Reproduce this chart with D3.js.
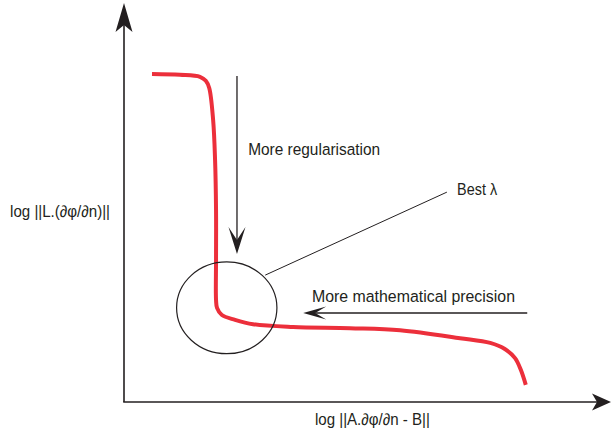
<!DOCTYPE html>
<html>
  <head>
    <meta charset="utf-8">
    <title>L-curve</title>
    <script src="https://d3js.org/d3.v7.min.js"></script>
    <style>
      body { margin: 0; background: #fff; }
      svg { display: block; font-family: "Liberation Sans", Arial, sans-serif; }
      .label { font-size: 16.3px; fill: #231f20; }
    </style>
  </head>
  <body>
    <svg id="chart" width="611" height="436"></svg>
    <script>
      // curve, in arbitrary log units (0-100 on both axes)
      curveX = [5.75, 11.5, 15.6, 16.8, 17.5, 18.3, 18.7, 18.9, 18.9, 18.9, 19.1, 20.1, 22.8, 26.5, 34.7, 46.4, 56.7, 69.0, 75.2, 78.2, 80.3, 81.5, 82.5];
      curveY = [82.2, 82.0, 81.5, 80.5, 78.7, 70.7, 60.7, 48.1, 35.6, 25.6, 23.6, 21.8, 20.6, 19.5, 18.8, 18.5, 18.0, 16.0, 14.8, 13.3, 11.0, 8.0, 4.3];
      // annotations
      downArrow = { x: 23.2, y1: 81.7, y2: 37.1 };
      leftArrow = { y: 22.3, x1: 82.8, x2: 36.8 };
      bestCircle = { cx: 21.1, cy: 23.6, rx: 10.3, ry: 11.5 };
      pointer = { x1: 29.0, y1: 31.8, x2: 66.3, y2: 52.6 };
      labels = [
        { text: "More regularisation", x: 25.5, y: 61.9 },
        { text: "Best \u03bb", x: 68.4, y: 51.9 },
        { text: "More mathematical precision", x: 38.6, y: 25.1 },
        { text: "log ||A.\u2202\u03c6/\u2202n - B||", x: 39.2, y: -5.8 },
        { text: "log ||L.(\u2202\u03c6/\u2202n)||", x: -23.4, y: 46.4 }
      ];
      // rendered widths of the labels in the original, px
      labelWidths = [132, 40, 203, 115, 100];

      chart = d3.select("#chart");
      x = d3.scaleLinear().domain([0, 100]).range([124, 611]);
      y = d3.scaleLinear().domain([0, 100]).range([402, 3]);
      ink = "#231f20";

      // notched arrowhead, tip at (tx, ty), pointing along angle a
      function arrowHead(tx, ty, a, len, half, notch) {
        ux = Math.cos(a); uy = Math.sin(a);
        px = -uy; py = ux;
        pts = [
          [tx, ty],
          [tx - ux * len + px * half, ty - uy * len + py * half],
          [tx - ux * notch, ty - uy * notch],
          [tx - ux * len - px * half, ty - uy * len - py * half]
        ];
        return "M" + pts.map(function(p) { return p.join(","); }).join("L") + "Z";
      }

      // axes
      chart.append("line")
        .attr("x1", x(0)).attr("y1", y(0))
        .attr("x2", x(0)).attr("y2", y(100) + 20)
        .attr("stroke", ink).attr("stroke-width", 1.6);
      chart.append("path")
        .attr("d", arrowHead(x(0), y(100), -Math.PI / 2, 29, 8.5, 22))
        .attr("fill", ink);
      chart.append("line")
        .attr("x1", x(0) - 0.8).attr("y1", y(0))
        .attr("x2", x(100) - 14).attr("y2", y(0))
        .attr("stroke", ink).attr("stroke-width", 1.6);
      chart.append("path")
        .attr("d", arrowHead(x(100), y(0), 0, 19, 8.5, 14))
        .attr("fill", ink);

      // L-curve
      curveData = curveX.map(function(d, i) { return [d, curveY[i]]; });
      line = d3.line()
        .x(function(d) { return x(d[0]); })
        .y(function(d) { return y(d[1]); })
        .curve(d3.curveCatmullRom.alpha(0.5));
      chart.append("path")
        .attr("d", line(curveData))
        .attr("fill", "none")
        .attr("stroke", "#ec2f3b")
        .attr("stroke-width", 4)
        .attr("stroke-linecap", "butt");

      // best lambda circle and pointer
      chart.append("ellipse")
        .attr("cx", x(bestCircle.cx)).attr("cy", y(bestCircle.cy))
        .attr("rx", x(bestCircle.rx) - x(0)).attr("ry", y(0) - y(bestCircle.ry))
        .attr("fill", "none").attr("stroke", ink).attr("stroke-width", 1.2);
      chart.append("line")
        .attr("x1", x(pointer.x1)).attr("y1", y(pointer.y1))
        .attr("x2", x(pointer.x2)).attr("y2", y(pointer.y2))
        .attr("stroke", ink).attr("stroke-width", 1);

      // direction arrows
      chart.append("line")
        .attr("x1", x(downArrow.x)).attr("y1", y(downArrow.y1))
        .attr("x2", x(downArrow.x)).attr("y2", y(downArrow.y2) - 14)
        .attr("stroke", ink).attr("stroke-width", 1.3);
      chart.append("path")
        .attr("d", arrowHead(x(downArrow.x), y(downArrow.y2), Math.PI / 2, 27, 8.5, 14))
        .attr("fill", ink);
      chart.append("line")
        .attr("x1", x(leftArrow.x1)).attr("y1", y(leftArrow.y))
        .attr("x2", x(leftArrow.x2) + 12).attr("y2", y(leftArrow.y))
        .attr("stroke", ink).attr("stroke-width", 1.3);
      chart.append("path")
        .attr("d", arrowHead(x(leftArrow.x2), y(leftArrow.y), Math.PI, 23, 6.5, 12))
        .attr("fill", ink);

      // text
      chart.selectAll(".label")
        .data(labels)
        .enter().append("text")
          .attr("class", "label")
          .attr("x", function(d) { return x(d.x); })
          .attr("y", function(d) { return y(d.y); })
          .attr("textLength", function(d, i) { return labelWidths[i]; })
          .attr("lengthAdjust", "spacingAndGlyphs")
          .text(function(d) { return d.text; });
    </script>
  </body>
</html>
